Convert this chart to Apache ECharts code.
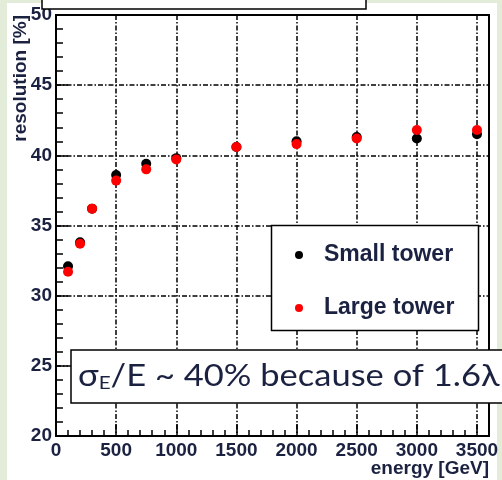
<!DOCTYPE html>
<html><head><meta charset="utf-8">
<script src="https://cdn.jsdelivr.net/npm/echarts@6/dist/echarts.min.js"></script>
<style>html,body{margin:0;padding:0;background:#e2ecd9;}#c{width:502px;height:480px;}</style>
</head><body><div id="c"></div>
<script>
const energies = [100, 200, 300, 500, 750, 1000, 1500, 2000, 2500, 3000, 3500];
const smallTower = [32.1, 33.8, 36.2, 38.6, 39.4, 39.8, 40.6, 41.0, 41.3, 41.2, 41.5];
const largeTower = [31.7, 33.7, 36.2, 38.2, 39.0, 39.7, 40.6, 40.8, 41.2, 41.8, 41.8];
const seriesNames = ['Small tower', 'Large tower'];
const xLabel = 'energy [GeV]';
const yLabel = 'resolution [%]';
const annotation = ['σ', 'E', '/E ~ 40% because of 1.6λ'];

const chart = echarts.init(document.getElementById('c'), null, {renderer: 'canvas'});
const labelColor = '#1b2140';
const gridDash = [5, 2, 1.5, 2];
const pairs = a => energies.map((e, i) => [e, a[i]]);
const fmt = v => String(v);
chart.setOption({
  backgroundColor: 'transparent',
  animation: false,
  grid: {left: 56, right: 13, top: 15, bottom: 44, show: true, borderColor: '#000', borderWidth: 2, backgroundColor: '#fff'},
  xAxis: {
    type: 'value', min: 0, max: 3600, interval: 500,
    axisLine: {show: true, lineStyle: {color: '#000', width: 2}},
    axisTick: {show: true, inside: true, length: 12, lineStyle: {color: '#000', width: 1.5}},
    minorTick: {show: true, splitNumber: 5, length: 6, lineStyle: {color: '#000', width: 1.5}},
    axisLabel: {showMaxLabel: false, formatter: fmt, color: labelColor, fontFamily: 'Liberation Sans', fontWeight: 'bold', fontSize: 19, margin: 5},
    splitLine: {show: true, lineStyle: {color: '#000', width: 1.5, type: gridDash}}
  },
  yAxis: {
    type: 'value', min: 20, max: 50, interval: 5,
    axisLine: {show: true, lineStyle: {color: '#000', width: 2}},
    axisTick: {show: true, inside: true, length: 12, lineStyle: {color: '#000', width: 1.5}},
    minorTick: {show: true, splitNumber: 5, length: 7, lineStyle: {color: '#000', width: 1.5}},
    axisLabel: {formatter: fmt, color: labelColor, fontFamily: 'Liberation Sans', fontWeight: 'bold', fontSize: 19, margin: 4},
    splitLine: {show: true, lineStyle: {color: '#000', width: 1.5, type: gridDash}}
  },
  legend: {
    orient: 'vertical', left: 295, top: 242, padding: 0, itemGap: 27, itemWidth: 8, itemHeight: 8, z: 20,
    icon: 'circle',
    textStyle: {color: labelColor, fontFamily: 'Liberation Sans', fontWeight: 'bold', fontSize: 23, lineHeight: 26, padding: [0, 0, 0, 16]},
    data: seriesNames
  },
  series: [
    {name: seriesNames[0], type: 'scatter', symbol: 'circle', symbolSize: 10, itemStyle: {color: '#000', opacity: 1}, data: pairs(smallTower), z: 3},
    {name: seriesNames[1], type: 'scatter', symbol: 'circle', symbolSize: 10, itemStyle: {color: '#ff0000', opacity: 1}, data: pairs(largeTower), z: 4}
  ],
  graphic: [
    {type: 'rect', shape: {x: 7, y: 3, width: 490, height: 480}, style: {fill: '#fff'}, z: -10, silent: true},
    {type: 'rect', shape: {x: 42, y: -5, width: 324, height: 14}, style: {fill: '#fff', stroke: '#000', lineWidth: 1.5}, z: 100},
    {type: 'rect', shape: {x: 271.5, y: 225.5, width: 207, height: 105}, style: {fill: '#fff', stroke: '#000', lineWidth: 1.5}, z: 10},
    {type: 'rect', shape: {x: 71, y: 350, width: 440, height: 53}, style: {fill: '#fff', stroke: '#000', lineWidth: 1.5}, z: 100},
    {type: 'text', x: 78, y: 376, scaleX: 1.15, z: 101, style: {
      text: '{a|' + annotation[0] + '}{s|' + annotation[1] + '}{a|' + annotation[2] + '}',
      verticalAlign: 'middle', fill: labelColor,
      rich: {
        a: {fontFamily: 'Lato', fontSize: 30, fill: labelColor, lineHeight: 40},
        s: {fontFamily: 'Lato', fontSize: 18, fill: labelColor, lineHeight: 40, padding: [14, 0, 0, 0]}
      }
    }},
    {type: 'text', x: 21, y: 15, rotation: Math.PI / 2, z: 50, style: {text: yLabel, align: 'right', verticalAlign: 'middle', fill: labelColor, font: 'bold 19px "Liberation Sans"'}},
    {type: 'text', x: 489, y: 469, z: 50, style: {text: xLabel, align: 'right', verticalAlign: 'middle', fill: labelColor, font: 'bold 19px "Liberation Sans"'}}
  ]
});
</script></body></html>
